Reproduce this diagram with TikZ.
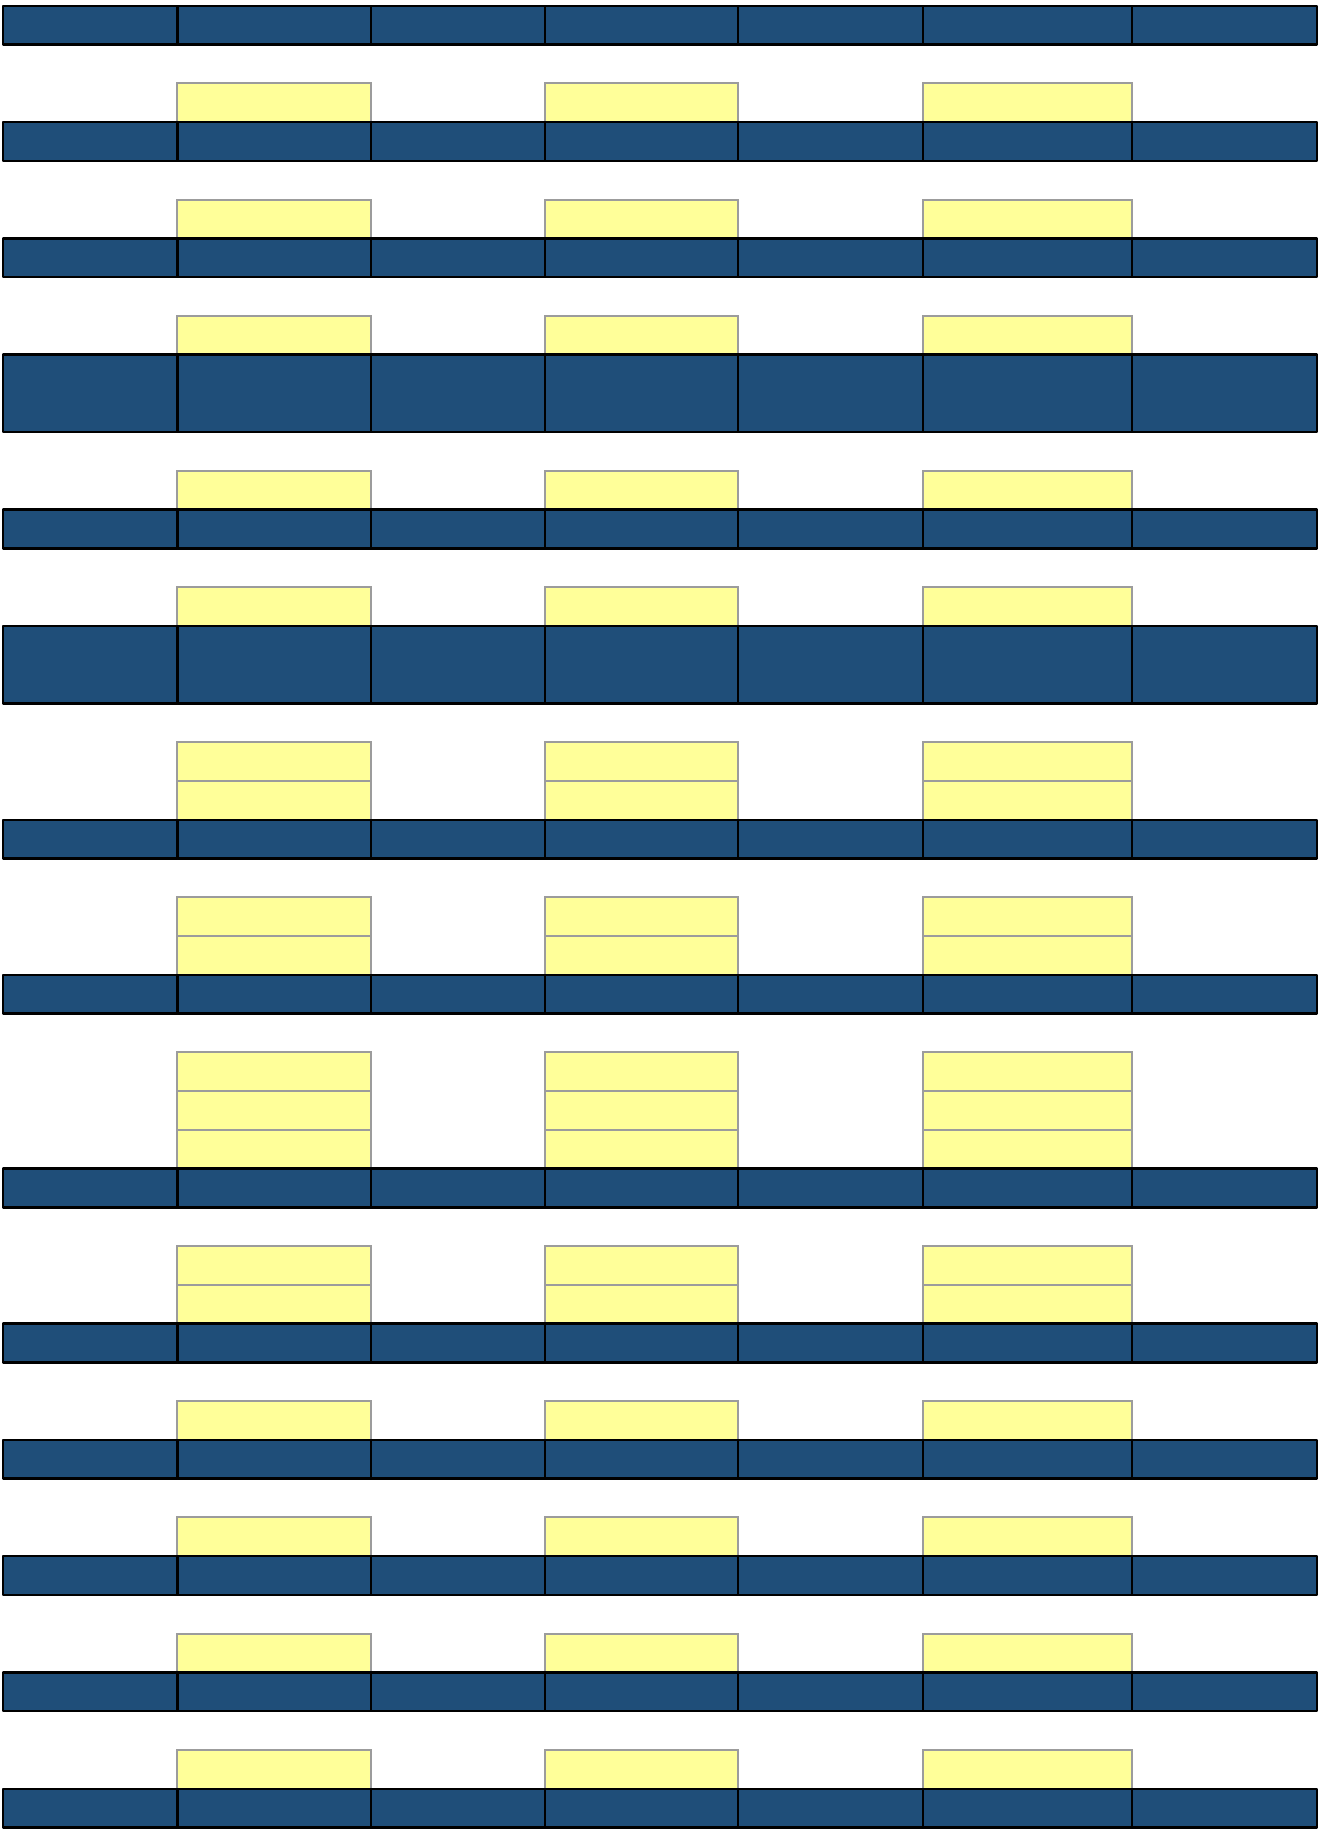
\documentclass[tikz,border=0pt]{standalone}
\definecolor{bl}{HTML}{1F4E79}
\definecolor{yl}{HTML}{FFFF99}
\definecolor{gr}{HTML}{9C9C9C}
\begin{document}
\begin{tikzpicture}[x=0.01cm,y=-0.01cm,
  seg/.style={fill=bl,draw=black,line width=0.7pt,line join=round},
  cell/.style={fill=yl,draw=gr,line width=0.55pt}]
\useasboundingbox (0,0) rectangle (1322,1829);
\def\U{38.76}
\def\T{5.8}
% yellow stacks
\foreach \b/\n in {3/1,6/1,9/1,13/1,16/1,21/2,25/2,30/3,34/2,37/1,40/1,43/1,46/1}{
  \foreach \xa/\xb in {177.3/371,545/738,923/1132}{
    \foreach \k in {1,...,\n}{
      \draw[cell] (\xa,{\T+\U*(\b-\k)}) rectangle (\xb,{\T+\U*(\b-\k+1)});
    }
  }
}
% blue rows
\foreach \t/\h in {0/1,3/1,6/1,9/2,13/1,16/2,21/1,25/1,30/1,34/1,37/1,40/1,43/1,46/1}{
  \foreach \xa/\xb in {3/177.3,177.3/371,371/545,545/738,738/923,923/1132,1132/1317}{
    \draw[seg] (\xa,{\T+\U*\t}) rectangle (\xb,{\T+\U*(\t+\h)});
  }
}
\end{tikzpicture}
\end{document}
